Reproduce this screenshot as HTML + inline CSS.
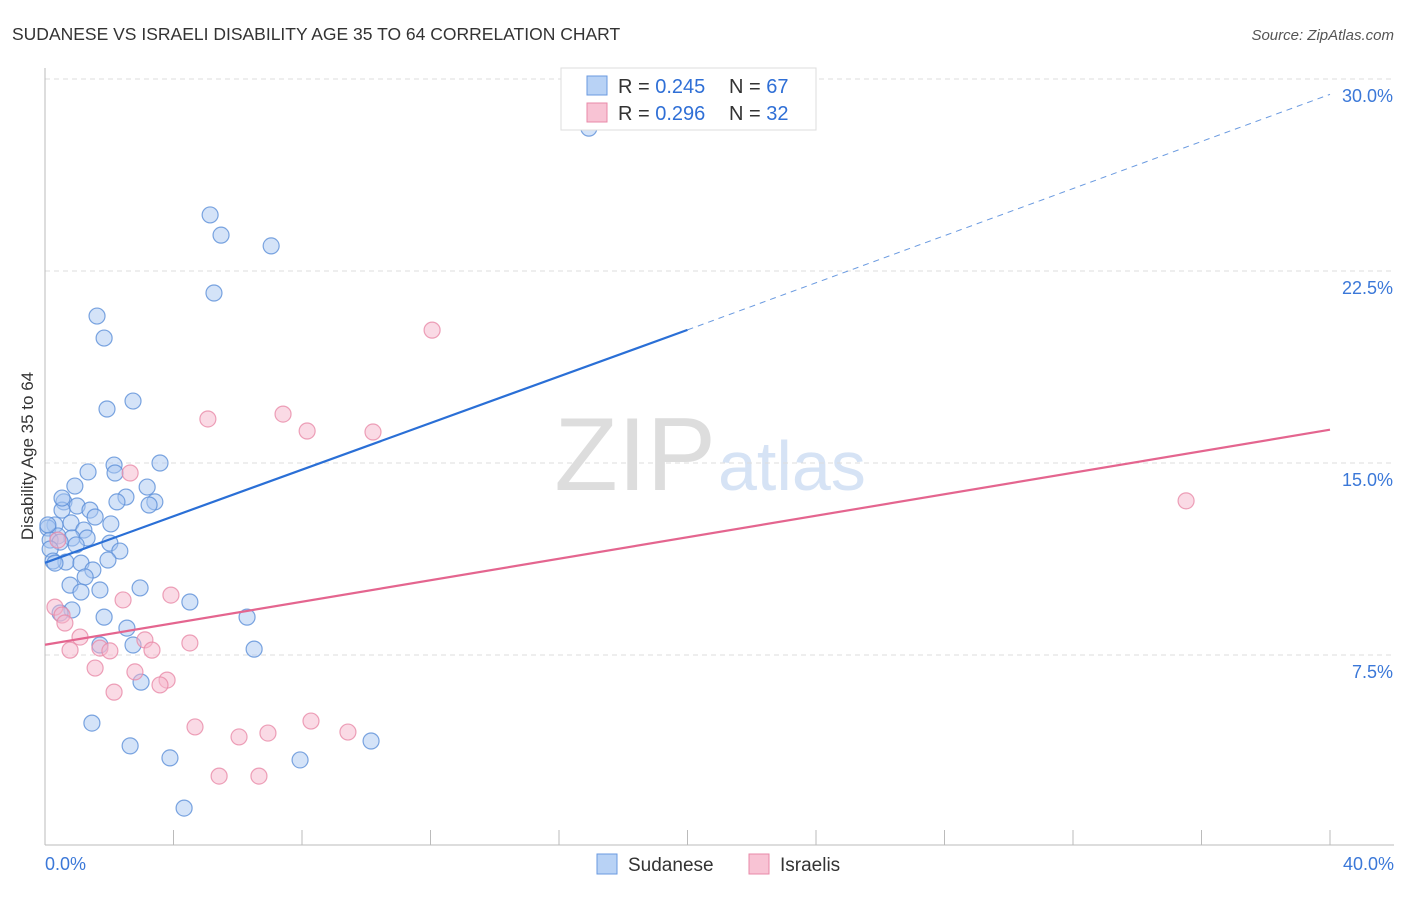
<!DOCTYPE html>
<html><head><meta charset="utf-8"><style>
body{margin:0;background:#fff;font-family:"Liberation Sans",sans-serif;}
svg text{font-family:"Liberation Sans",sans-serif;}
</style></head><body>
<svg id="c" width="1406" height="892">
<text x="12" y="40" font-size="17.5" fill="#333">SUDANESE VS ISRAELI DISABILITY AGE 35 TO 64 CORRELATION CHART</text>
<text x="1394" y="40" font-size="15" fill="#555" font-style="italic" text-anchor="end">Source: ZipAtlas.com</text>
<text x="33" y="456" font-size="17" fill="#333" transform="rotate(-90 33 456)" text-anchor="middle">Disability Age 35 to 64</text>
<text x="716" y="490" font-size="104" fill="#ddd" text-anchor="end" font-family="Liberation Serif">ZIP</text>
<text x="718" y="490" font-size="70" fill="#d6e3f5">atlas</text>
<g id="grid"></g><g id="marks"></g><g id="lines"></g>
<g>
<rect x="561" y="68" width="255" height="62" fill="#fff" stroke="#ddd"/>
<rect x="587" y="76" width="20" height="19" fill="#b8d2f5" stroke="#6a9ae0"/>
<text x="618" y="93" font-size="20" fill="#333">R = <tspan fill="#2f6fd6">0.245</tspan></text>
<text x="729" y="93" font-size="20" fill="#333">N = <tspan fill="#2f6fd6">67</tspan></text>
<rect x="587" y="103" width="20" height="19" fill="#f8c3d4" stroke="#e88aa8"/>
<text x="618" y="120" font-size="20" fill="#333">R = <tspan fill="#2f6fd6">0.296</tspan></text>
<text x="729" y="120" font-size="20" fill="#333">N = <tspan fill="#2f6fd6">32</tspan></text>
</g>
<g>
<rect x="597" y="854" width="20" height="20" fill="#b8d2f5" stroke="#6a9ae0"/>
<text x="628" y="871" font-size="19" fill="#333">Sudanese</text>
<rect x="749" y="854" width="20" height="20" fill="#f8c3d4" stroke="#e88aa8"/>
<text x="780" y="871" font-size="19" fill="#333">Israelis</text>
</g>
<text x="45" y="870" font-size="18" fill="#3b78d8">0.0%</text>
<text x="1394" y="870" font-size="18" fill="#3b78d8" text-anchor="end">40.0%</text>
</svg>
<script>
const yTicks=[7.5,15,22.5,30];
const yTickLabels=["7.5%","15.0%","22.5%","30.0%"];
const sudX=[16.93,5.14,5.48,7.04,5.26,1.62,1.84,2.74,1.93,3.58,2.15,1.34,2.18,0.93,3.18,2.52,0.59,3.42,2.24,3.24,1.00,1.40,0.53,1.56,0.81,2.05,0.31,0.09,1.21,0.40,2.02,0.84,1.31,0.16,0.47,0.97,2.33,0.16,0.65,1.12,1.96,1.49,0.25,1.25,0.78,2.96,1.12,1.71,0.84,0.47,1.84,4.51,6.29,2.55,1.71,2.74,6.51,2.99,1.46,2.65,3.89,7.94,10.15,4.33,0.31,0.09,0.53];
const sudY=[28.08,24.69,23.90,23.48,21.64,20.74,19.88,17.42,17.11,15.00,14.92,14.65,14.61,14.10,14.06,13.67,13.48,13.48,13.48,13.36,13.32,13.16,13.16,12.89,12.66,12.62,12.58,12.46,12.38,12.15,11.87,12.07,12.07,11.99,11.91,11.80,11.56,11.64,11.13,11.09,11.21,10.82,11.17,10.55,10.23,10.12,9.96,10.04,9.26,9.14,8.98,9.57,8.98,8.55,7.89,7.89,7.73,6.44,4.84,3.95,3.48,3.40,4.14,1.52,11.09,12.58,13.63];
const isrX=[12.05,5.07,7.41,8.16,10.21,2.65,0.31,0.53,0.62,2.43,3.92,1.09,3.11,4.51,0.78,1.71,2.02,3.33,1.56,2.80,3.80,3.58,2.15,4.67,6.04,6.94,8.28,9.43,5.42,6.66,35.52,0.40];
const isrY=[20.19,16.72,16.91,16.25,16.21,14.61,9.37,9.06,8.75,9.65,9.84,8.20,8.09,7.97,7.69,7.77,7.66,7.69,6.99,6.84,6.52,6.33,6.05,4.69,4.30,4.45,4.92,4.49,2.77,2.77,13.52,11.99];
const sudTrend=[11.1,20.2,29.4]; // at x=0,20,40
const isrTrend=[7.9,16.3]; // at x=0,40
const NS='http://www.w3.org/2000/svg';
const X=v=>45+v/40*1285, Y=v=>847-v*25.6;
function mk(t,a,p){const e=document.createElementNS(NS,t);for(const k in a)e.setAttribute(k,a[k]);p.appendChild(e);return e;}
const g=document.getElementById('grid');
yTicks.forEach((t,i)=>{
 const l=mk('line',{x1:45,x2:1394,y1:Y(t),y2:Y(t),stroke:'#ddd','stroke-dasharray':'5,4'},g);
 
 
 const tx=mk('text',{x:1393,y:Y(t)+23,'font-size':18,fill:'#3b78d8','text-anchor':'end'},g);
 tx.textContent=yTickLabels[i];
 
 
});
mk('line',{x1:45,x2:45,y1:68,y2:845,stroke:'#bbb'},g);
mk('line',{x1:45,x2:1394,y1:845,y2:845,stroke:'#bbb'},g);
for(let i=0;i<=10;i++){const t=mk('line',{x1:X(i*4),x2:X(i*4),y1:830,y2:845,stroke:'#bbb'},g);
 
 }
const m=document.getElementById('marks');
function pts(xs,ys,fill,stroke,name){xs.forEach((x,i)=>{const c=mk('circle',{cx:X(x),cy:Y(ys[i]),r:8,fill:fill,'fill-opacity':0.5,stroke:stroke,'stroke-width':1.2,'stroke-opacity':0.8},m);
 
 });}
pts(sudX,sudY,'#a9c8f2','#5b8fd8','sudanese-point');
pts(isrX,isrY,'#f6b6cb','#e88aa8','israelis-point');
const L=document.getElementById('lines');
const b1=mk('line',{x1:X(0),y1:Y(sudTrend[0]),x2:X(20),y2:Y(sudTrend[1]),stroke:'#2a6fd6','stroke-width':2.2},L);


const b2=mk('line',{x1:X(20),y1:Y(sudTrend[1]),x2:X(40),y2:Y(sudTrend[2]),stroke:'#6a9ae0','stroke-width':1,'stroke-dasharray':'6,5'},L);


const p1=mk('line',{x1:X(0),y1:Y(isrTrend[0]),x2:X(40),y2:Y(isrTrend[1]),stroke:'#e4658f','stroke-width':2.2},L);


</script>
</body></html>
